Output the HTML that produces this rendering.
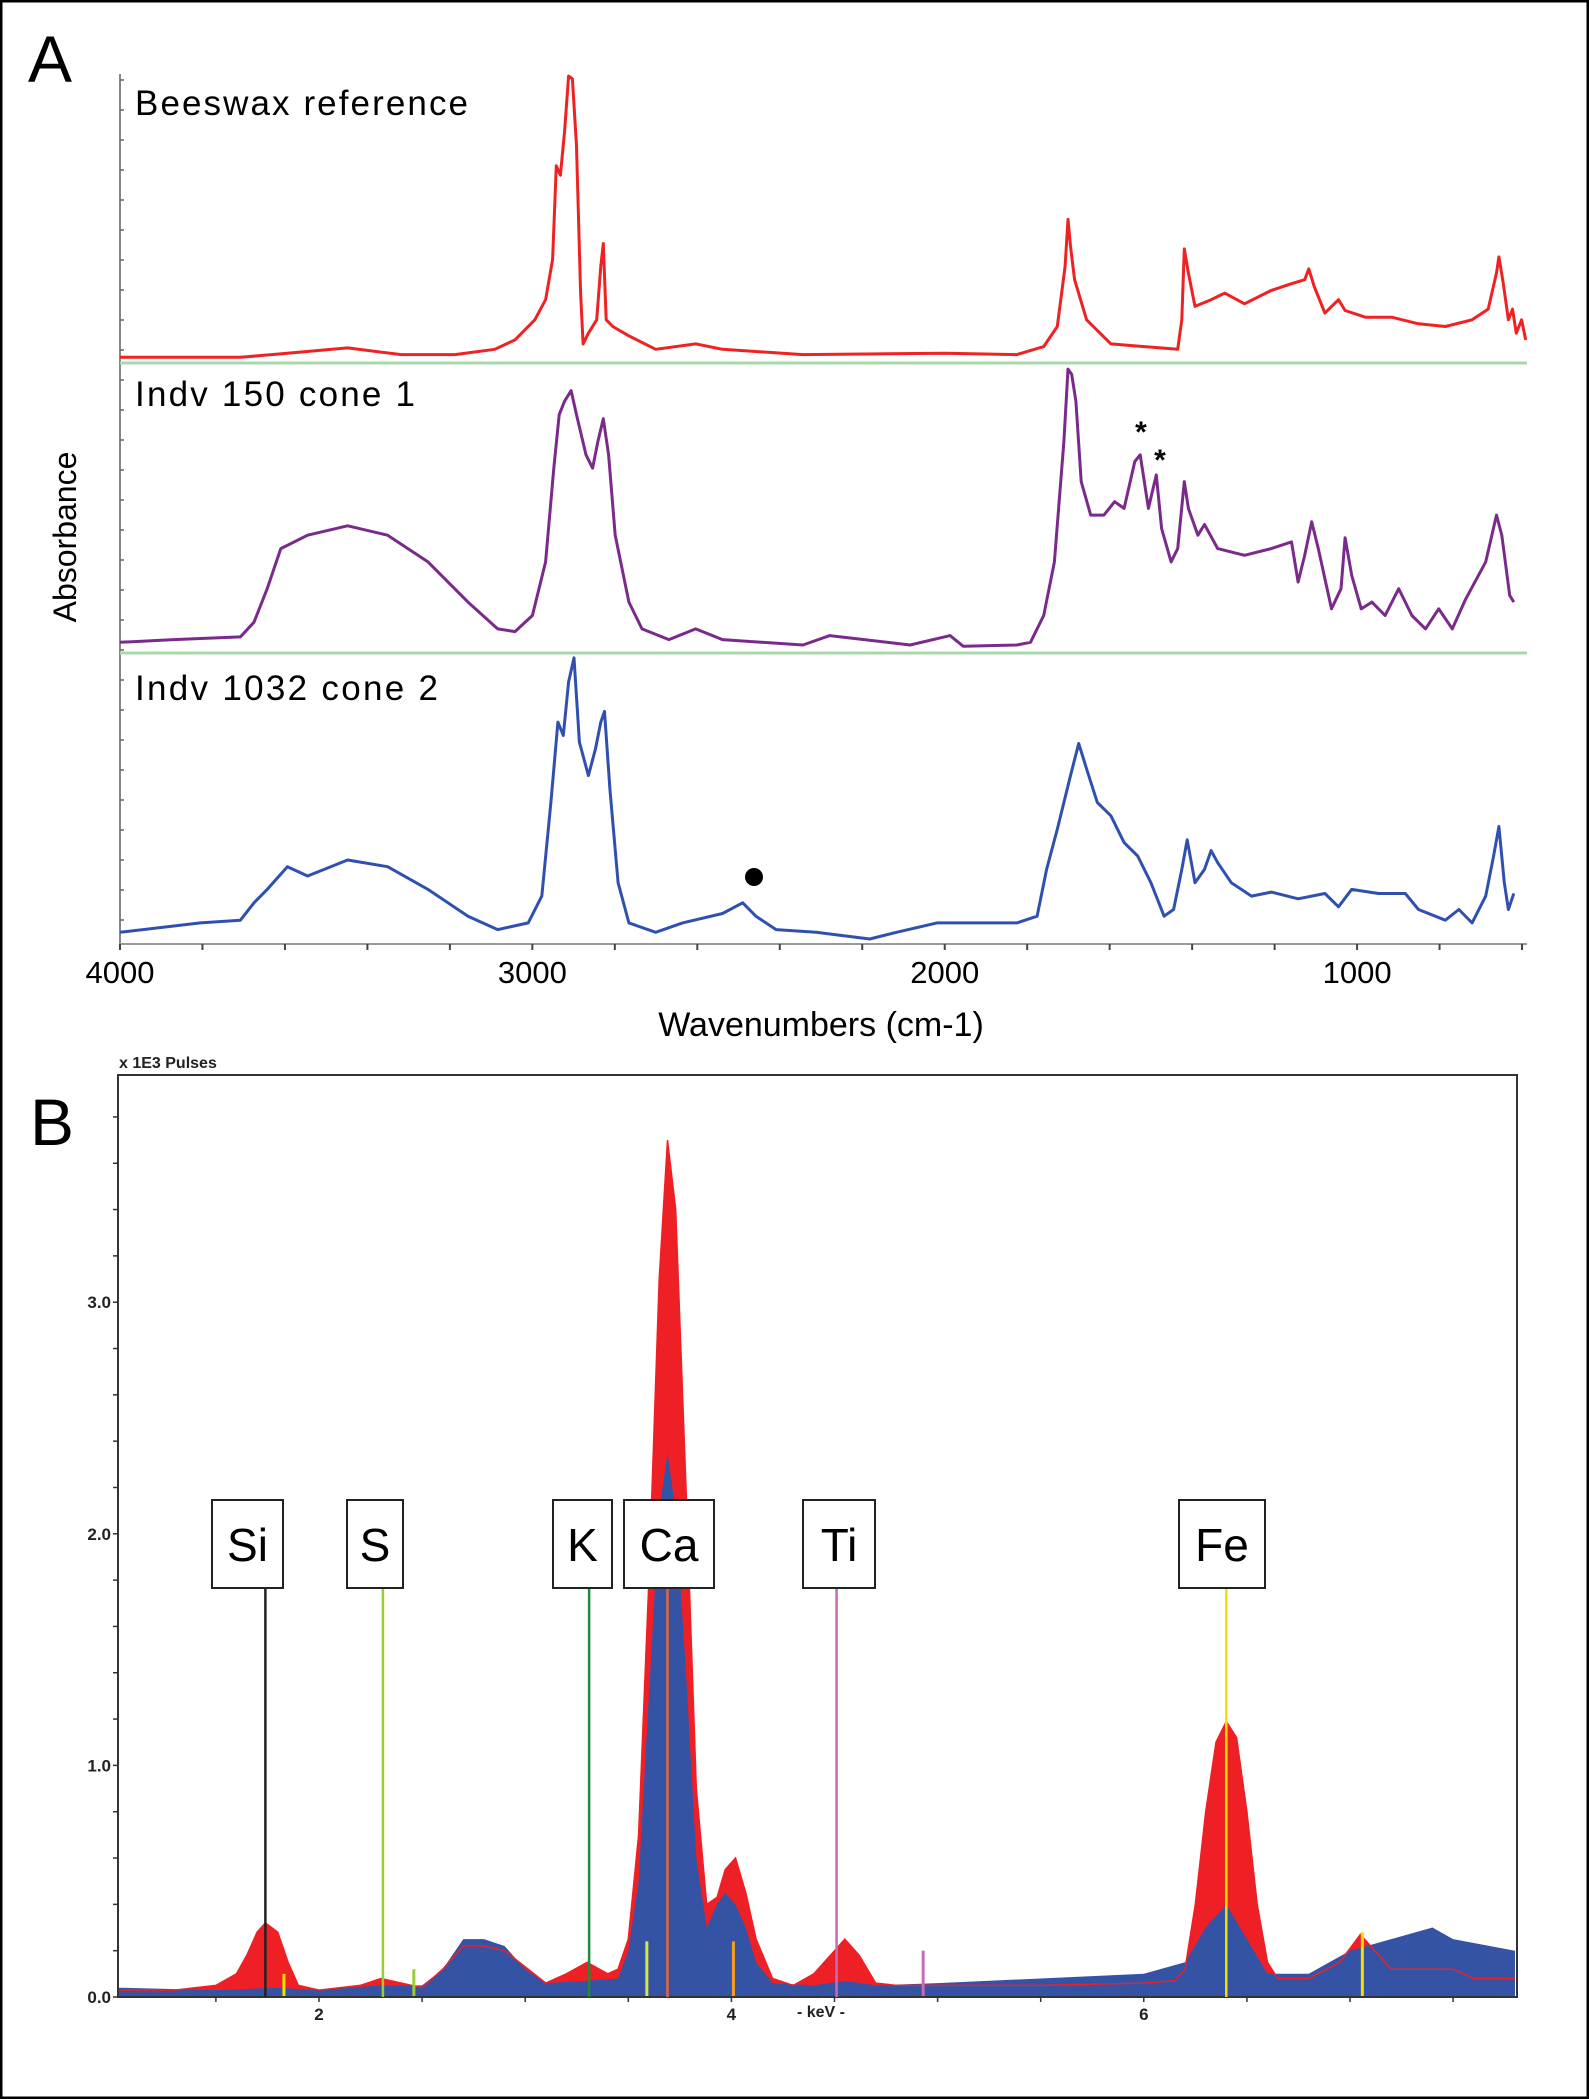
<!DOCTYPE html>
<html><head><meta charset="utf-8"><style>
html,body{margin:0;padding:0;background:#fff}
svg{display:block;font-family:"Liberation Sans",sans-serif}
</style></head><body>
<svg id="fig" width="1589" height="2099" viewBox="0 0 1589 2099">
<rect x="1" y="1" width="1587" height="2097" fill="#fff" stroke="#000" stroke-width="3"/>
<text x="28" y="82" font-size="66">A</text>
<text x="30" y="1145" font-size="66">B</text>
<g id="gA"></g>
<g id="gB"></g>
</svg>
<script>
// ---------- Panel A data ----------
const beeswaxWn=[4000,3708,3594,3448,3318,3188,3091,3042,2994,2968,2951,2942,2932,2922,2912,2903,2893,2883,2877,2864,2844,2834,2828,2821,2805,2766,2701,2604,2539,2344,2000,1825,1760,1727,1708,1701,1695,1685,1656,1597,1435,1425,1419,1409,1393,1354,1321,1273,1208,1159,1127,1117,1104,1078,1045,1029,980,916,851,786,721,682,662,656,646,633,623,614,601,591];
const beeswaxAbs=[.02,.02,.05,.09,.04,.04,.08,.15,.30,.45,.75,1.45,1.38,1.70,2.12,2.10,1.60,.50,.12,.20,.30,.70,.87,.30,.25,.18,.08,.12,.08,.04,.05,.04,.10,.25,.70,1.05,.85,.60,.30,.12,.08,.30,.83,.65,.40,.45,.50,.42,.52,.57,.60,.68,.55,.35,.45,.37,.32,.32,.27,.25,.30,.38,.65,.77,.58,.30,.38,.20,.30,.15];
const cone1Wn=[4000,3870,3708,3675,3643,3610,3545,3448,3351,3253,3156,3084,3042,3000,2968,2948,2935,2922,2906,2893,2870,2854,2841,2828,2815,2799,2766,2734,2669,2604,2539,2344,2279,2084,1987,1955,1825,1792,1760,1734,1711,1701,1692,1682,1669,1646,1614,1588,1565,1539,1526,1506,1487,1474,1451,1435,1419,1409,1386,1370,1338,1273,1208,1159,1143,1127,1110,1094,1062,1039,1029,1013,990,964,932,899,867,834,802,769,737,688,662,649,630,620];
const cone1Abs=[.08,.10,.12,.23,.48,.78,.88,.95,.88,.68,.38,.18,.16,.28,.68,1.38,1.78,1.88,1.96,1.78,1.48,1.38,1.58,1.75,1.48,.88,.38,.18,.10,.18,.10,.06,.13,.06,.13,.05,.06,.08,.28,.68,1.58,2.12,2.08,1.88,1.28,1.03,1.03,1.13,1.08,1.43,1.48,1.08,1.33,.93,.68,.78,1.28,1.08,.88,.96,.78,.73,.78,.83,.53,.73,.98,.78,.33,.48,.86,.58,.33,.38,.28,.48,.28,.18,.33,.18,.40,.68,1.03,.88,.43,.38];
const cone2Wn=[4000,3805,3708,3675,3643,3594,3545,3448,3351,3253,3156,3084,3010,2977,2955,2938,2925,2912,2899,2886,2864,2847,2834,2825,2812,2792,2766,2701,2636,2539,2490,2458,2409,2312,2182,2117,2019,1825,1776,1753,1727,1695,1675,1656,1630,1597,1565,1532,1500,1468,1445,1425,1412,1393,1370,1354,1338,1305,1256,1208,1143,1078,1045,1013,948,883,851,786,753,721,688,669,656,643,633,620];
const cone2Abs=[.08,.15,.17,.30,.40,.57,.50,.62,.57,.40,.20,.10,.15,.35,1.05,1.65,1.55,1.95,2.13,1.50,1.25,1.45,1.65,1.73,1.15,.45,.15,.08,.15,.22,.30,.20,.10,.08,.03,.08,.15,.15,.20,.55,.85,1.25,1.49,1.30,1.05,.95,.75,.65,.45,.20,.25,.55,.77,.45,.55,.69,.60,.45,.35,.38,.33,.37,.27,.40,.37,.37,.25,.17,.25,.15,.35,.65,.87,.45,.25,.37];
const wnTicks=[4000,3000,2000,1000];
const wnTickLabels=["4000","3000","2000","1000"];
// ---------- Panel B data ----------
const redKeV=[1.03,1.3,1.5,1.6,1.65,1.7,1.74,1.8,1.85,1.9,2.0,2.2,2.3,2.4,2.5,2.6,2.7,2.8,2.9,3.0,3.1,3.2,3.3,3.4,3.45,3.5,3.55,3.6,3.65,3.69,3.73,3.78,3.83,3.88,3.93,3.97,4.02,4.07,4.12,4.2,4.3,4.4,4.5,4.55,4.62,4.7,4.8,5.0,5.5,6.0,6.15,6.2,6.25,6.3,6.35,6.4,6.45,6.5,6.55,6.6,6.65,6.8,6.95,7.05,7.1,7.2,7.5,7.6,7.8];
const redCounts=[.03,.03,.05,.10,.18,.28,.32,.28,.15,.05,.03,.05,.08,.06,.04,.12,.22,.22,.20,.13,.06,.10,.15,.10,.12,.25,.70,1.80,3.10,3.70,3.40,2.20,.90,.40,.43,.55,.60,.45,.25,.08,.05,.10,.20,.25,.18,.06,.05,.05,.05,.06,.07,.12,.40,.80,1.10,1.19,1.12,.80,.40,.15,.08,.08,.15,.27,.22,.12,.12,.08,.08];
const blueKeV=[1.03,1.5,1.8,2.0,2.3,2.5,2.6,2.7,2.8,2.9,3.0,3.1,3.3,3.45,3.5,3.55,3.6,3.65,3.69,3.73,3.78,3.83,3.88,3.93,3.97,4.02,4.07,4.12,4.2,4.4,4.55,4.7,5.0,5.5,6.0,6.2,6.3,6.4,6.5,6.6,6.8,7.0,7.2,7.4,7.5,7.8];
const blueCounts=[.04,.03,.04,.03,.05,.05,.12,.25,.25,.22,.12,.06,.07,.08,.20,.50,1.30,2.10,2.35,2.10,1.40,.60,.30,.40,.45,.40,.30,.15,.06,.05,.07,.05,.06,.08,.10,.15,.30,.40,.25,.10,.10,.20,.25,.30,.25,.20];
const elemNames=["Si","S","K","Ca","Ti","Fe"];
const elemKeV=[1.74,2.31,3.31,3.69,4.51,6.40];
const elemColors=["#222","#9acd32","#1e8a3a","#e8643c","#c86ab4","#f0e000"];
const minorKeV=[1.83,2.46,3.59,4.01,4.93,7.06];
const minorHeights=[.1,.12,.24,.24,.2,.28];
const minorColors=["#f0e000","#9acd32","#d8e840","#f0a020","#c86ab4","#f0e000"];
const cntTicks=[0,1,2,3];
const cntTickLabels=["0.0","1.0","2.0","3.0"];
const keVTicks=[2,4,6];
const keVTickLabels=["2","4","6"];

const NS="http://www.w3.org/2000/svg";
function mk(parent,tag,attrs){const e=document.createElementNS(NS,tag);for(const k in attrs)e.setAttribute(k,attrs[k]);parent.appendChild(e);return e;}

// ---------- Panel A ----------
const gA=document.getElementById('gA');
const xA=wn=>120+(4000-wn)*0.41236;
const unitA=133.9;
const ax=mk(gA,'line',{x1:120,y1:74,x2:120,y2:944,stroke:'#888','stroke-width':2});


const bx=mk(gA,'line',{x1:120,y1:944,x2:1527,y2:944,stroke:'#999','stroke-width':2});


for(let wn=4000;wn>=600;wn-=200){const t=mk(gA,'line',{x1:xA(wn),y1:944,x2:xA(wn),y2:950,stroke:'#444','stroke-width':2});

}
for(let y=80;y<944;y+=30){const t=mk(gA,'line',{x1:120,y1:y,x2:124,y2:y,stroke:'#666','stroke-width':1.5});

}
wnTicks.forEach((wn,i)=>{const t=mk(gA,'text',{x:xA(wn),y:983,'font-size':31,'text-anchor':'middle'});t.textContent=wnTickLabels[i];

});
[363,653].forEach(y=>{const l=mk(gA,'line',{x1:120,y1:y,x2:1527,y2:y,stroke:'#a9d8ad','stroke-width':3});

});
const series=[[beeswaxWn,beeswaxAbs,360,'#ee2222','beeswax-spectrum'],[cone1Wn,cone1Abs,653,'#7a2a8a','cone1-spectrum'],[cone2Wn,cone2Abs,943,'#3050b0','cone2-spectrum']];
series.forEach(s=>{const d=s[0].map((wn,i)=>(i?'L':'M')+xA(wn).toFixed(1)+','+(s[2]-s[1][i]*unitA).toFixed(1)).join('');
const p=mk(gA,'path',{d:d,fill:'none',stroke:s[3],'stroke-width':3,'stroke-linejoin':'round'});

});
const labs=[['Beeswax reference',135,115,333],['Indv 150 cone 1',135,406,280],['Indv 1032 cone 2',135,700,303]];
labs.forEach(l=>{const t=mk(gA,'text',{x:l[1],y:l[2],'font-size':35,textLength:l[3]});t.textContent=l[0];

});
const ab=mk(gA,'text',{x:0,y:0,'font-size':32,'text-anchor':'middle',transform:'translate(76,537) rotate(-90)'});ab.textContent='Absorbance';


const wt=mk(gA,'text',{x:821,y:1036,'font-size':34,'text-anchor':'middle'});wt.textContent='Wavenumbers (cm-1)';


[[1141,442],[1160,470]].forEach(p=>{const t=mk(gA,'text',{x:p[0],y:p[1],'font-size':30,'text-anchor':'middle','font-weight':'bold'});t.textContent='*';

});
const dot=mk(gA,'circle',{cx:754,cy:877,r:9,fill:'#000'});



// ---------- Panel B ----------
const gB=document.getElementById('gB');
const xB=k=>319+(k-2)*206.2;
const yB=v=>1997-v*231.6;
const L=118,R=1517,T=1075,Bt=1997;
function area(keV,vals){let d='M'+xB(keV[0]).toFixed(1)+','+Bt;keV.forEach((k,i)=>{d+='L'+xB(k).toFixed(1)+','+yB(vals[i]).toFixed(1);});d+='L'+xB(keV[keV.length-1]).toFixed(1)+','+Bt+'Z';return d;}
function line(keV,vals){return keV.map((k,i)=>(i?'L':'M')+xB(k).toFixed(1)+','+yB(vals[i]).toFixed(1)).join('');}
const ra=mk(gB,'path',{d:area(redKeV,redCounts),fill:'#ee2026'});


const ba=mk(gB,'path',{d:area(blueKeV,blueCounts),fill:'#3553a5'});


const rl=mk(gB,'path',{d:line(redKeV,redCounts),fill:'none',stroke:'#ee2026','stroke-width':1.5});


minorKeV.forEach((k,i)=>{const l=mk(gB,'line',{x1:xB(k),y1:Bt,x2:xB(k),y2:yB(minorHeights[i]),stroke:minorColors[i],'stroke-width':3});

});
const frame=mk(gB,'rect',{x:L,y:T,width:R-L,height:Bt-T,fill:'none',stroke:'#333','stroke-width':2});


for(let v=0;v<=3.81;v+=0.2){const t=mk(gB,'line',{x1:L-5,y1:yB(v),x2:L,y2:yB(v),stroke:'#333','stroke-width':1.5});

}
cntTicks.forEach((v,i)=>{const t=mk(gB,'text',{x:L-7,y:yB(v)+6,'font-size':17,'font-weight':'bold','text-anchor':'end',fill:'#222'});t.textContent=cntTickLabels[i];

});
for(let k=1.5;k<=7.6;k+=0.5){const t=mk(gB,'line',{x1:xB(k),y1:Bt,x2:xB(k),y2:Bt+5,stroke:'#333','stroke-width':1.5});

}
keVTicks.forEach((k,i)=>{const t=mk(gB,'text',{x:xB(k),y:Bt+23,'font-size':17,'font-weight':'bold','text-anchor':'middle',fill:'#222'});t.textContent=keVTickLabels[i];

});
const pu=mk(gB,'text',{x:119,y:1068,'font-size':16,'font-weight':'bold',fill:'#222'});pu.textContent='x 1E3 Pulses';


const kv=mk(gB,'text',{x:821,y:2017,'font-size':16,'font-weight':'bold','text-anchor':'middle',fill:'#222'});kv.textContent='- keV -';


const boxX=[212,347,553,624,803,1179];
const boxW=[71,56,59,90,72,86];
elemKeV.forEach((k,i)=>{const x=xB(k);
const ln=mk(gB,'line',{x1:x,y1:1588,x2:x,y2:Bt,stroke:elemColors[i],'stroke-width':2.5});


const r=mk(gB,'rect',{x:boxX[i],y:1500,width:boxW[i],height:88,fill:'#fff',stroke:'#222','stroke-width':2});


const t=mk(gB,'text',{x:boxX[i]+boxW[i]/2,y:1561,'font-size':46,'text-anchor':'middle'});t.textContent=elemNames[i];

});
</script>
</body></html>
